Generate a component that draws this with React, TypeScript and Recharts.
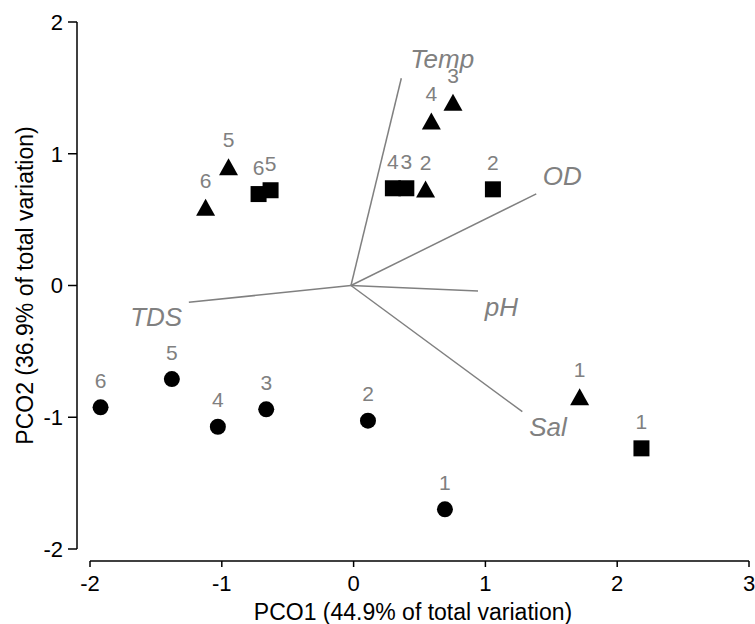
import React from "react"
import { ScatterChart, Scatter, XAxis, YAxis, ReferenceLine } from "recharts"

// site numbers, same order in every group
const siteLabels = ["1", "2", "3", "4", "5", "6"]

// circles
const circleX = [0.693, 0.109, -0.663, -1.03, -1.379, -1.92]
const circleY = [-1.699, -1.026, -0.94, -1.072, -0.71, -0.925]
// triangles
const triangleX = [1.715, 0.546, 0.754, 0.59, -0.949, -1.123]
const triangleY = [-0.844, 0.732, 1.39, 1.249, 0.902, 0.594]
// squares
const squareX = [2.184, 1.057, 0.4, 0.298, -0.63, -0.721]
const squareY = [-1.236, 0.73, 0.738, 0.738, 0.723, 0.694]

// environmental vectors
const vectorNames = ["Temp", "OD", "pH", "Sal", "TDS"]
const vectorX = [0.362, 1.386, 0.944, 1.28, -1.25]
const vectorY = [1.573, 0.695, -0.042, -0.958, -0.128]
const vectorLabelX = [0.672, 1.583, 1.121, 1.475, -1.498]
const vectorLabelY = [1.721, 0.835, -0.158, -1.069, -0.234]
const originX = -0.02
const originY = 0

const xTicks = [-2, -1, 0, 1, 2, 3]
const yTicks = [-2, -1, 0, 1, 2]
const xDomain: [number, number] = [-2.0987, 3]
const yDomain: [number, number] = [-2.0911, 2]

const FONT = "'Liberation Sans', Arial, sans-serif"
const GRAY = "#808080"

const toPoints = (xs: number[], ys: number[]) =>
  xs.map((x, i) => ({ x, y: ys[i], label: siteLabels[i] }))

const circles = toPoints(circleX, circleY)
const triangles = toPoints(triangleX, triangleY)
const squares = toPoints(squareX, squareY)
const vectorLabels = vectorNames.map((name, i) => ({
  x: vectorLabelX[i],
  y: vectorLabelY[i],
  name,
}))

function SiteLabel({ cx, cy, text }: { cx: number; cy: number; text: string }) {
  return (
    <text x={cx} y={cy - 19.5} textAnchor="middle" fontSize={21} fill={GRAY} fontFamily={FONT}>
      {text}
    </text>
  )
}

const circleShape = (props: any) => (
  <g>
    <circle cx={props.cx} cy={props.cy} r={8} fill="#000" />
    <SiteLabel cx={props.cx} cy={props.cy} text={props.payload.label} />
  </g>
)

const triangleShape = (props: any) => {
  const { cx, cy } = props
  return (
    <g>
      <polygon
        points={`${cx},${cy - 8.5} ${cx + 9.5},${cy + 8.5} ${cx - 9.5},${cy + 8.5}`}
        fill="#000"
      />
      <SiteLabel cx={cx} cy={cy} text={props.payload.label} />
    </g>
  )
}

const squareShape = (props: any) => (
  <g>
    <rect x={props.cx - 8} y={props.cy - 8} width={16} height={16} fill="#000" />
    <SiteLabel cx={props.cx} cy={props.cy} text={props.payload.label} />
  </g>
)

const vectorLabelShape = (props: any) => (
  <text
    x={props.cx}
    y={props.cy}
    dy="0.36em"
    textAnchor="middle"
    fontSize={26}
    fontStyle="italic"
    fill={GRAY}
    fontFamily={FONT}
  >
    {props.payload.name}
  </text>
)

export default function App() {
  return (
    <div style={{ position: "absolute", left: 0, top: 0, background: "#fff" }}>
      <ScatterChart width={755} height={624} margin={{ top: 22, right: 6, bottom: 0, left: 0 }}>
        <XAxis
          type="number"
          dataKey="x"
          domain={xDomain}
          allowDataOverflow
          ticks={xTicks}
          axisLine={false}
          tickLine={{ stroke: "#000", strokeWidth: 1.5 }}
          tickSize={6}
          tickMargin={8}
          height={63}
          tick={{ fill: "#000", fontSize: 22, fontFamily: FONT }}
          label={{
            value: "PCO1 (44.9% of total variation)",
            position: "insideBottom",
            offset: 4,
            fill: "#000",
            fontSize: 23,
            fontFamily: FONT,
          }}
        />
        <YAxis
          type="number"
          dataKey="y"
          domain={yDomain}
          allowDataOverflow
          ticks={yTicks}
          axisLine={false}
          tickLine={{ stroke: "#000", strokeWidth: 1.5 }}
          tickSize={9}
          tickMargin={5}
          width={77}
          tick={{ fill: "#000", fontSize: 22, fontFamily: FONT }}
          label={{
            content: () => (
              <text
                x={33}
                y={285.5}
                transform="rotate(-90, 33, 285.5)"
                textAnchor="middle"
                fontSize={23}
                fill="#000"
                fontFamily={FONT}
              >
                PCO2 (36.9% of total variation)
              </text>
            ),
          }}
        />
        {/* offset axis lines, only over the tick range */}
        <ReferenceLine
          segment={[{ x: -2, y: yDomain[0] }, { x: 3, y: yDomain[0] }]}
          stroke="#000"
          strokeWidth={1.5}
          ifOverflow="visible"
        />
        <ReferenceLine
          segment={[{ x: xDomain[0], y: -2 }, { x: xDomain[0], y: 2 }]}
          stroke="#000"
          strokeWidth={1.5}
          ifOverflow="visible"
        />
        {vectorNames.map((name, i) => (
          <ReferenceLine
            key={name}
            segment={[{ x: originX, y: originY }, { x: vectorX[i], y: vectorY[i] }]}
            stroke={GRAY}
            strokeWidth={1.5}
            ifOverflow="visible"
          />
        ))}
        <Scatter data={vectorLabels} shape={vectorLabelShape} isAnimationActive={false} />
        <Scatter data={circles} shape={circleShape} isAnimationActive={false} />
        <Scatter data={triangles} shape={triangleShape} isAnimationActive={false} />
        <Scatter data={squares} shape={squareShape} isAnimationActive={false} />
      </ScatterChart>
    </div>
  )
}
